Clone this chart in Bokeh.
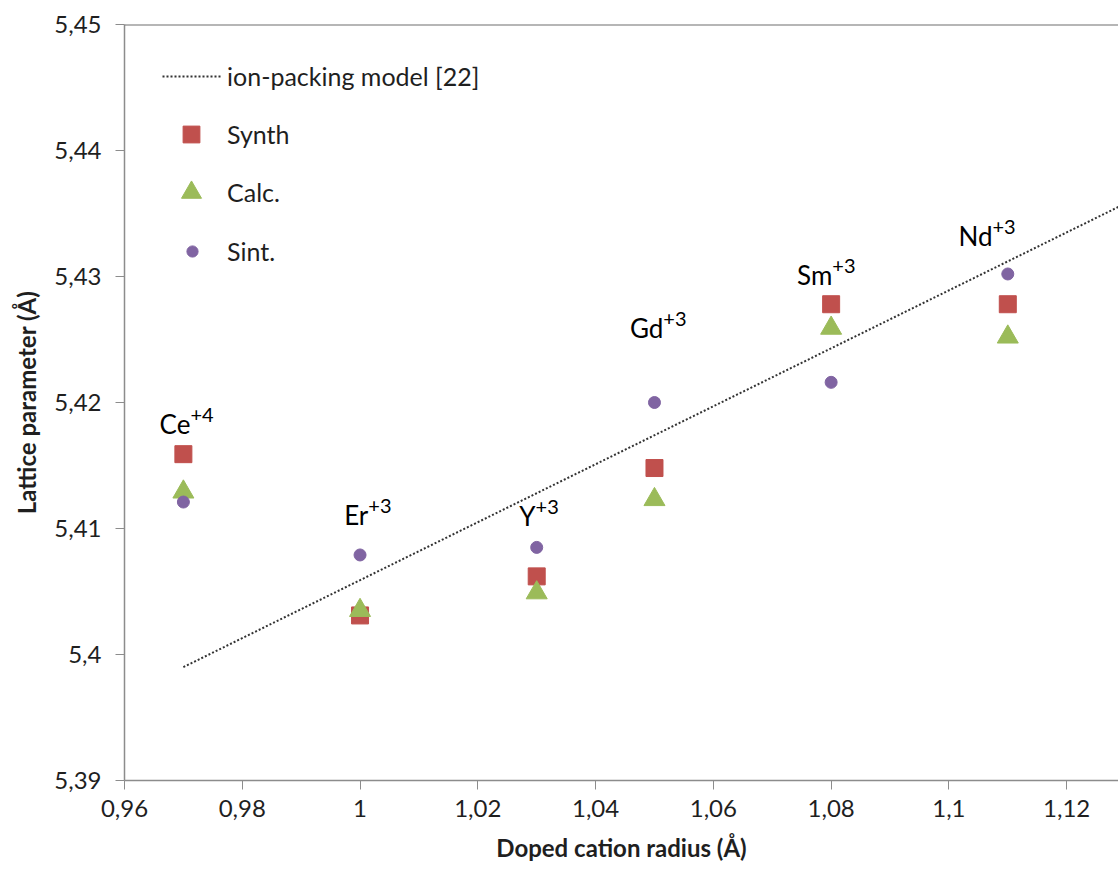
from bokeh.plotting import figure
from bokeh.models import (ColumnDataSource, Range1d, FixedTicker, CustomJSTickFormatter,
                          Legend, LegendItem, Span)
from bokeh.core.properties import value
from bokeh.embed import file_html
from bokeh.resources import INLINE

# ---- data ----
radius = [0.97, 1.00, 1.03, 1.05, 1.08, 1.11]
ions = ["Ce", "Er", "Y", "Gd", "Sm", "Nd"]
charges = ["+4", "+3", "+3", "+3", "+3", "+3"]
synth = [5.4159, 5.4031, 5.4062, 5.4148, 5.4278, 5.4278]
calc = [5.4129, 5.4035, 5.4049, 5.4123, 5.4259, 5.4252]
sint = [5.4121, 5.4079, 5.4085, 5.4200, 5.4216, 5.4302]
model_x = [0.97, 1.13]
model_y = [5.3990, 5.4358]
label_x = [0.9712, 1.0014, 1.0298, 1.0515, 1.0802, 1.1074]
label_y = [5.4183, 5.4111, 5.4110, 5.4259, 5.4301, 5.4332]
x_ticks = [0.96, 0.98, 1.00, 1.02, 1.04, 1.06, 1.08, 1.10, 1.12]
y_ticks = [5.39, 5.40, 5.41, 5.42, 5.43, 5.44, 5.45]

FONT = "Lato"
RED = "#C0504D"
GREEN = "#9BBB59"
PURPLE = "#8064A2"
AXIS = "#8c8c8c"
TXT = "#1f1f1f"

p = figure(width=1118, height=871, output_backend="svg", toolbar_location=None,
           x_range=Range1d(0.96, 1.1288), y_range=Range1d(5.39, 5.45),
           min_border_left=124, min_border_right=0, min_border_top=24, min_border_bottom=91)
p.outline_line_color = None
p.xgrid.visible = False
p.ygrid.visible = False
p.background_fill_color = "white"
p.border_fill_color = "white"

fmt = CustomJSTickFormatter(code="return (Math.round(tick*1000)/1000).toString().replace('.', ',');")
for ax, ticks in ((p.xaxis[0], x_ticks), (p.yaxis[0], y_ticks)):
    ax.ticker = FixedTicker(ticks=ticks)
    ax.formatter = fmt
    ax.axis_line_color = AXIS
    ax.axis_line_width = 1.5
    ax.major_tick_line_color = AXIS
    ax.major_tick_out = 9
    ax.major_tick_in = 0
    ax.minor_tick_line_color = None
    ax.major_label_text_font = FONT
    ax.major_label_text_font_size = "24px"
    ax.major_label_text_color = TXT
    ax.axis_label_text_font = FONT
    ax.axis_label_text_font_style = "bold"
    ax.axis_label_text_font_size = "24px"
    ax.axis_label_text_color = TXT

p.xaxis.axis_label = "Doped cation radius (Å)"
p.yaxis.axis_label = "Lattice parameter (Å)"
p.xaxis.major_label_standoff = 10
p.yaxis.major_label_standoff = 14
p.xaxis.axis_label_standoff = 13
p.yaxis.axis_label_standoff = 10

p.add_layout(Span(location=5.45, dimension="width", line_color="#6e6e6e", line_width=2))

src = ColumnDataSource(dict(x=radius, synth=synth, calc=calc, sint=sint))
lsrc = ColumnDataSource(dict(x=label_x, y=label_y, ion=ions, charge=charges))

r_line = p.line(model_x, model_y, line_color="#333333", line_width=2, line_dash="2 2")
r_sq = p.scatter("x", "synth", source=src, marker="square", size=17,
                 fill_color=RED, line_color=RED)
r_tri = p.scatter("x", "calc", source=src, marker="triangle", size=21,
                  fill_color=GREEN, line_color=GREEN)
r_circ = p.scatter("x", "sint", source=src, marker="circle", size=12,
                   fill_color=PURPLE, line_color=PURPLE)

p.text("x", "y", text="ion", source=lsrc, text_align="right", text_baseline="alphabetic",
       text_font=value(FONT), text_font_size="26px", text_color="black")
p.text("x", "y", text="charge", source=lsrc, text_align="left", text_baseline="alphabetic",
       y_offset=-9, text_font=value(FONT), text_font_size="20px", text_color="black")

# legends: one per entry so that each marker keeps its own size
entries = [
    ("ion-packing model [22]", r_line, 60, 76),
    ("Synth", r_sq, 42, 134),
    ("Calc.", r_tri, 50, 192),
    ("Sint.", r_circ, 28, 251),
]
H = 50
for label, rend, w, cy in entries:
    left = int(round(191.5 - w / 2.0))
    standoff = 227 - (left + w)
    lg = Legend(items=[LegendItem(label=label, renderers=[rend])],
                location=(left - 124, int(round(780 - (cy + H / 2.0)))),
                glyph_width=w, glyph_height=H, label_height=H,
                label_standoff=standoff, padding=0, margin=0, spacing=0,
                border_line_color=None, background_fill_alpha=0,
                label_text_font=FONT, label_text_font_size="25px", label_text_color=TXT)
    p.add_layout(lg, "center")

open("out.html", "w").write(file_html(p, INLINE))
